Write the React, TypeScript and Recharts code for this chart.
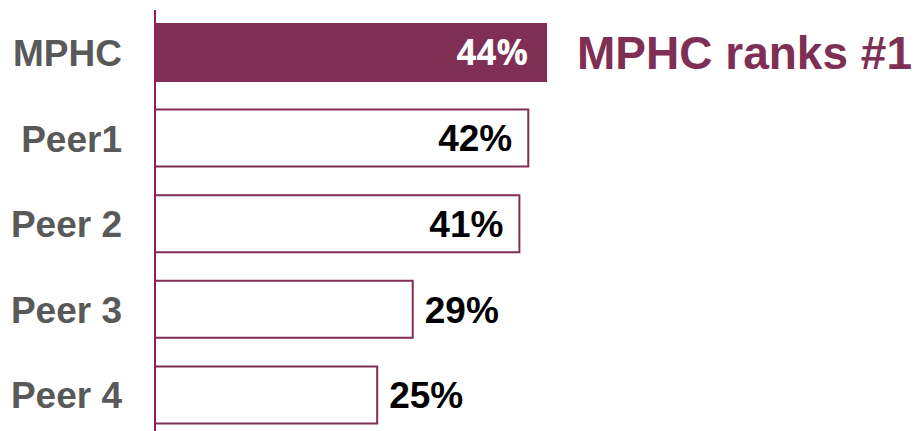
import { BarChart, Bar, XAxis, YAxis, Cell, LabelList } from "recharts"

const categories = ["MPHC", "Peer1", "Peer 2", "Peer 3", "Peer 4"]
const shares = [44, 42, 41, 29, 25]
const highlight = "MPHC"
const calloutText = "MPHC ranks #1"

const data = categories.map((name, i) => ({ name, share: shares[i] }))

const PURPLE = "#7f2f54"
const AXIS = "#a0185e"

function ValueLabel(props: any) {
  const { x, y, width, height, value, index } = props
  const isTop = categories[index] === highlight
  const cy = y + height / 2
  const end = x + width
  if (isTop) {
    return (
      <g>
        <text x={end - 18} y={cy} dy="0.36em" textAnchor="end" fill="#fff"
          fontFamily="'Open Sans', sans-serif" fontWeight={700} fontSize={35}>
          {value}%
        </text>
        <text x={end + 31} y={cy} dy="0.36em" textAnchor="start" fill={PURPLE}
          fontFamily="'Liberation Sans', Arial, sans-serif" fontWeight={700} fontSize={46}>
          {calloutText}
        </text>
      </g>
    )
  }
  const inside = value >= 40
  return (
    <text x={inside ? end - 16 : end + 12} y={cy} dy="0.36em"
      textAnchor={inside ? "end" : "start"} fill="#000"
      fontFamily="'Liberation Sans', Arial, sans-serif" fontWeight={700} fontSize={37}>
      {value}%
    </text>
  )
}

export default function App() {
  return (
    <div style={{ position: "absolute", left: 0, top: 0, width: 919, height: 431, overflow: "hidden", background: "#fff" }}>
      <BarChart width={919} height={440} data={data} layout="vertical"
        margin={{ top: 10, right: 53, bottom: 2, left: 0 }}>
        <XAxis type="number" domain={[0, 80]} hide />
        <YAxis type="category" dataKey="name" width={155}
          axisLine={{ stroke: AXIS, strokeWidth: 2 }} tickLine={false}
          tickSize={6} tickMargin={27}
          tick={{ fill: "#595959", fontSize: 37, fontWeight: 700, fontFamily: "'Liberation Sans', Arial, sans-serif" }} />
        <Bar dataKey="share" barSize={57} isAnimationActive={false}>
          {data.map((d) => (
            <Cell key={d.name} fill={d.name === highlight ? PURPLE : "#fff"} stroke={PURPLE} strokeWidth={2} />
          ))}
          <LabelList dataKey="share" content={ValueLabel} />
        </Bar>
      </BarChart>
    </div>
  )
}
